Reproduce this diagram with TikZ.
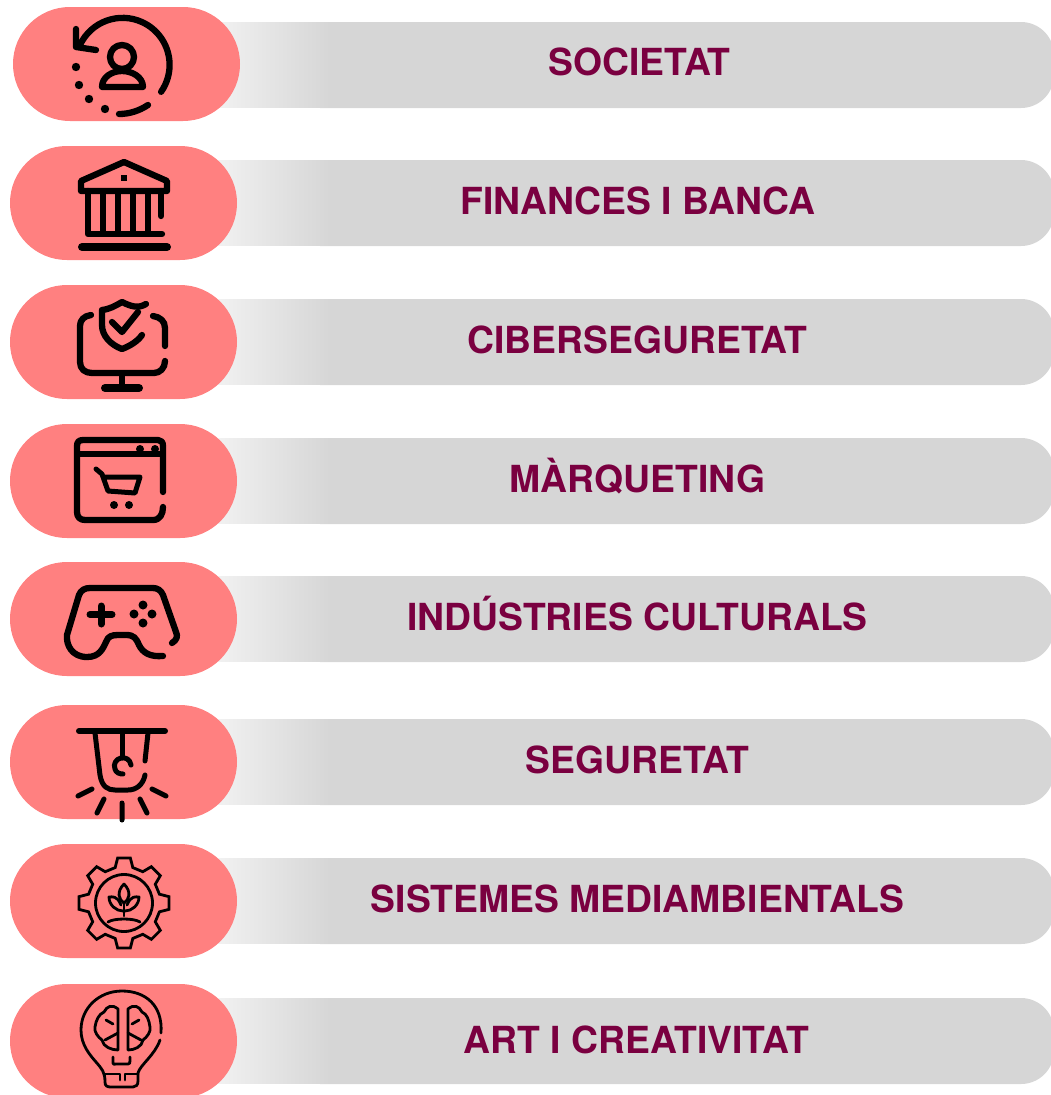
\documentclass[tikz,border=0pt]{standalone}
\usepackage{fontspec}
\setmainfont{TeX Gyre Heros}
\definecolor{pill}{HTML}{FF8080}
\definecolor{bar}{HTML}{D6D6D6}
\definecolor{wine}{HTML}{7A0040}
\tikzset{
  pillbox/.style={fill=pill,draw=none,rounded corners=56.9pt},
  ico/.style={draw=black,line width=6.3pt,line cap=round,line join=round,fill=none},
  icothin/.style={draw=black,line width=2.8pt,line cap=round,line join=round,fill=none},
  lab/.style={text=wine,font=\fontsize{37.3}{40}\selectfont\bfseries,anchor=base,inner sep=0pt}
}
\begin{document}
\begin{tikzpicture}[x=1pt,y=-1pt]
\useasboundingbox (0,0) rectangle (1051,1095);
\clip (0,0) rectangle (1051,1095);
% bars and labels
\foreach \t/\b/\c/\n/\l in {22/75/639.5/a/SOCIETAT,160/214/638/b/FINANCES I BANCA,299/353/637.5/c/CIBERSEGURETAT,438/492/637.5/d/MÀRQUETING,576/630/637.5/e/INDÚSTRIES CULTURALS,719/773/637.5/f/SEGURETAT,858/912/637.5/g/SISTEMES MEDIAMBIENTALS,998/1053/636.5/h/ART I CREATIVITAT}{
  \fill[bar] (320,\t) [rounded corners=33pt] -- (1054,\t) -- (1054,\t+86) [sharp corners] -- (320,\t+86) -- cycle;
  \shade[left color=white,right color=bar] (160,\t+0.4) rectangle (330,\t+85.4);
  \node[lab] (\n) at (\c,\b) {\l};
}
% pills
\fill[pillbox] (13,7) rectangle (240,121);
\foreach \t in {146,285,424,562,705,844,984}{
  \fill[pillbox] (10,\t) rectangle (237,\t+114);
}
% icon 1
\draw[ico] (80,45) arc[start angle=-155,end angle=35,radius=47];
\draw[ico] (76,29) -- (76,47) -- (96,50);
\draw[ico] (148,105) .. controls (139,111) and (129,114) .. (119,114);
\foreach \p in {(76,67),(79,85),(89,99),(105,109)}{\fill \p circle (4.2);}
\draw[ico] (122,57) circle (12);
\draw[ico] (102,87) .. controls (102,77) and (112,71) .. (122,71) .. controls (132,71) and (143,77) .. (143,87) -- cycle;
% icon 2
\draw[ico] (81,181) -- (124,162) -- (167,181) -- (167,191) -- (81,191) -- cycle;
\fill (121,175) rectangle (127,181);
\draw[ico] (88,191) -- (88,234) -- (162,234);
\foreach \x in {103,118,133,148}{\draw[ico,line width=5.5pt] (\x,191) -- (\x,234);}
\draw[ico] (161,191) -- (161,216);
\draw[line width=8pt,line cap=round] (82,247) -- (167,247);
% icon 3
\draw[ico] (91,315) .. controls (84,316) and (80,320) .. (80,326) -- (80,362) .. controls (80,369) and (85,373) .. (92,373) -- (154,373) .. controls (160,373) and (165,368) .. (165,361);
\draw[ico] (153,316) .. controls (160,317) and (165,321) .. (165,328) -- (165,346);
\draw[ico] (122,374) -- (122,387);
\draw[line width=8pt,line cap=round] (105,388) -- (139,388);
\draw[ico] (146,304) .. controls (138,309) and (130,306) .. (122,302) .. controls (115,306) and (110,309) .. (102,310) -- (102,325) .. controls (102,336) and (111,345) .. (122,349) .. controls (130,346) and (138,341) .. (142,335);
\draw[ico] (112,322) -- (122,332) -- (138,312);
% icon 4
\draw[ico] (163,492) -- (163,446) .. controls (163,442) and (161,440) .. (158,440) -- (83,440) .. controls (79,440) and (77,442) .. (77,446) -- (77,512) .. controls (77,517) and (80,520) .. (85,520) -- (153,520) .. controls (160,520) and (163,514) .. (163,507);
\draw[ico,line cap=butt] (77,454) -- (163,454);
\fill (140,449) circle (4) (155,449) circle (4);
\draw[ico,line width=5pt] (96,469) -- (102,474) -- (108,491) -- (135,493) -- (140,477) -- (104,477);
\fill (114,505) circle (4) (129,505) circle (4);
% icon 5
\draw[ico] (172,643) .. controls (177,640) and (178,636) .. (176,632) -- (163,595) .. controls (161,590) and (157,588) .. (153,588) -- (90,588) .. controls (85,588) and (81,590) .. (79,595) -- (67,635) .. controls (66,645) and (72,657) .. (87,657) .. controls (100,657) and (103,648) .. (106,642) .. controls (108,636) and (112,635) .. (118,635) -- (126,635) .. controls (134,635) and (136,638) .. (139,645) .. controls (143,653) and (150,657) .. (163,656);
\draw[ico,line width=7pt] (101,606) -- (101,624) (90,614.5) -- (112,614.5);
\foreach \p in {(143,605),(143,623),(134,614),(152,614)}{\fill \p circle (4.5);}
% icon 6
\draw[line width=6pt,line cap=round] (79,731) -- (165,731);
\draw[ico,line width=5pt] (95,733) -- (100,775) .. controls (102,787) and (108,790) .. (115,790) -- (128,790) .. controls (136,790) and (143,785) .. (145,775);
\draw[ico,line width=5pt] (148,733) -- (145,761);
\draw[ico,line width=5pt] (122,733) -- (122,758);
\draw[ico,line width=5pt] (131,765) .. controls (130,759) and (125,757) .. (121,758) .. controls (116,759) and (113,764) .. (115,769) .. controls (116,773) and (120,774) .. (123,774);
\draw[ico,line width=5pt] (78,796) -- (92,789) (97,813) -- (104,799) (122,803) -- (122,820) (140,799) -- (147,813) (152,789) -- (166,796);
% icon 7
\begin{scope}[shift={(124,903)}]
\draw[icothin,line join=miter] (-14:36.5) -- (-8:45.5) -- (8:45.5) -- (14:36.5)
 -- (31:36.5) -- (37:45.5) -- (53:45.5) -- (59:36.5)
 -- (76:36.5) -- (82:45.5) -- (98:45.5) -- (104:36.5)
 -- (121:36.5) -- (127:45.5) -- (143:45.5) -- (149:36.5)
 -- (166:36.5) -- (172:45.5) -- (188:45.5) -- (194:36.5)
 -- (211:36.5) -- (217:45.5) -- (233:45.5) -- (239:36.5)
 -- (256:36.5) -- (262:45.5) -- (278:45.5) -- (284:36.5)
 -- (301:36.5) -- (307:45.5) -- (323:45.5) -- (329:36.5) -- cycle;
\draw[icothin] (0,0) circle (28.5);
\draw[icothin] (0,-19) .. controls (-8,-11) and (-5,-3) .. (0,0) .. controls (5,-3) and (8,-11) .. (0,-19);
\draw[icothin] (-3,2) .. controls (-7,-8) and (-12,-6) .. (-15,-6) .. controls (-15,2) and (-8,8) .. (-1,8);
\draw[icothin] (3,2) .. controls (7,-8) and (12,-6) .. (15,-6) .. controls (15,2) and (8,8) .. (1,8);
\draw[icothin] (0,0) -- (0,13);
\draw[icothin] (-16,19) .. controls (-10,15) and (10,15) .. (16,19);
\end{scope}
% icon 8
\draw[icothin] (161,1033) .. controls (163,1005) and (145,991) .. (122,991) .. controls (99,991) and (81,1008) .. (81,1030) .. controls (81,1045) and (90,1055) .. (96,1062) .. controls (102,1069) and (105,1072) .. (105,1082) .. controls (105,1086) and (107,1087) .. (111,1087) -- (133,1087) .. controls (136,1087) and (138,1085) .. (138,1081) -- (138,1073) .. controls (140,1065) and (155,1055) .. (160,1040);
\draw[icothin] (105,1074) -- (120,1074) -- (120,1080);
\draw[icothin] (138,1074) -- (125,1074) -- (125,1080);
\draw[icothin] (113,1057) -- (113,1063) .. controls (113,1065) and (114,1064) .. (116,1064) -- (128,1064) .. controls (130,1064) and (130,1063) .. (130,1060) -- (130,1057);
\draw[icothin] (118,1050) -- (118,1009) .. controls (112,1004) and (107,1006) .. (104,1012) .. controls (99,1014) and (96,1020) .. (95,1027) .. controls (94,1032) and (98,1037) .. (102,1040) .. controls (103,1047) and (112,1050) .. (118,1050);
\draw[icothin] (128,1050) -- (128,1009) .. controls (134,1004) and (139,1006) .. (142,1012) .. controls (147,1014) and (149,1020) .. (150,1027) .. controls (151,1032) and (147,1037) .. (143,1040) .. controls (142,1047) and (134,1050) .. (128,1050);
\draw[icothin] (106,1020) -- (113,1024) (118,1033) -- (105,1040);
\draw[icothin] (139,1020) -- (132,1024) (128,1033) -- (141,1040);
\end{tikzpicture}
\end{document}
